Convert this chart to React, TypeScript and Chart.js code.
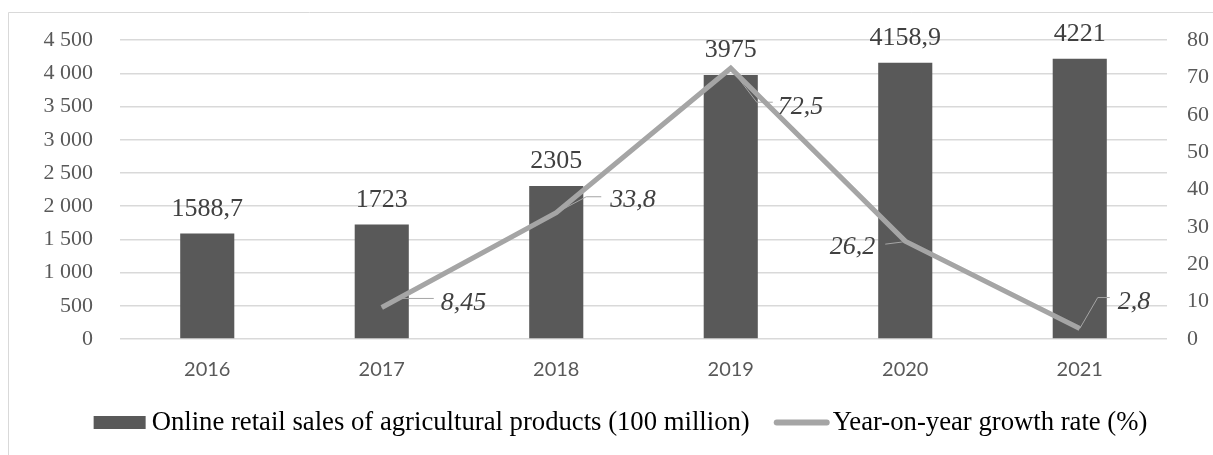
import { useEffect, useRef } from 'react';
import { Chart, registerables } from 'chart.js';

Chart.register(...registerables);

const years = ['2016', '2017', '2018', '2019', '2020', '2021'];
const salesValues = [1588.7, 1723, 2305, 3975, 4158.9, 4221];
const growthValues: (number | null)[] = [null, 8.45, 33.8, 72.5, 26.2, 2.8];
const seriesNames = [
  'Online retail sales of agricultural products (100 million)',
  'Year-on-year growth rate (%)',
];
const salesAxis = { min: 0, max: 4500, step: 500 };
const growthAxis = { min: 0, max: 80, step: 10 };

const fmtComma = (v: number) => String(v).replace('.', ',');
const fmtThousands = (v: number) =>
  v >= 1000 ? `${Math.floor(v / 1000)} ${String(v % 1000).padStart(3, '0')}` : String(v);

// label placement relative to each line point (dx, dy to text baseline; leader path)
const growthLabelPlacement = [
  null,
  { dx: 59, dy: 2.5, align: 'left', leader: [[20, -9], [52, -9]] },
  { dx: 54, dy: -6, align: 'left', leader: [[30, -16], [45, -16]] },
  { dx: 47, dy: 46, align: 'left', leader: [[26, 34], [42, 34]] },
  { dx: -30, dy: 12.5, align: 'right', leader: [[-4, 1], [-20, 3]] },
  { dx: 38, dy: -20, align: 'left', leader: [[18, -31], [30, -31]] },
];

const SERIF = '"Liberation Serif", "Times New Roman", serif';

const framePlugin = {
  id: 'frame',
  beforeDraw(chart: any) {
    const { ctx, width, height } = chart;
    ctx.save();
    ctx.fillStyle = '#ffffff';
    ctx.fillRect(0, 0, width, height);
    ctx.strokeStyle = '#d9d9d9';
    ctx.lineWidth = 1;
    ctx.beginPath();
    ctx.moveTo(8.5, height);
    ctx.lineTo(8.5, 12.5);
    ctx.lineTo(width, 12.5);
    ctx.stroke();
    ctx.restore();
  },
};

const valueLabelsPlugin = {
  id: 'valueLabels',
  afterDatasetsDraw(chart: any, _args: any, opts: any) {
    const ctx = chart.ctx;
    ctx.save();
    const barMeta = chart.getDatasetMeta(0);
    ctx.font = `26px ${SERIF}`;
    ctx.fillStyle = '#404040';
    ctx.textAlign = 'center';
    ctx.textBaseline = 'alphabetic';
    barMeta.data.forEach((el: any, i: number) => {
      const v = chart.data.datasets[0].data[i];
      ctx.fillText(fmtComma(v), el.x, el.y - 18);
    });
    const lineMeta = chart.getDatasetMeta(1);
    ctx.font = `italic 26px ${SERIF}`;
    lineMeta.data.forEach((el: any, i: number) => {
      const v = chart.data.datasets[1].data[i];
      const p = opts.placements[i];
      if (v == null || !p) return;
      ctx.strokeStyle = '#a5a5a5';
      ctx.lineWidth = 1;
      ctx.beginPath();
      ctx.moveTo(el.x, el.y);
      p.leader.forEach(([dx, dy]: number[]) => ctx.lineTo(el.x + dx, el.y + dy));
      ctx.stroke();
      ctx.textAlign = p.align;
      ctx.fillStyle = '#404040';
      ctx.fillText(fmtComma(v), el.x + p.dx, el.y + p.dy);
    });
    ctx.restore();
  },
};

const legendPlugin = {
  id: 'bottomLegend',
  afterDraw(chart: any, _args: any, opts: any) {
    const ctx = chart.ctx;
    const ds = chart.data.datasets;
    ctx.save();
    ctx.font = `26.7px ${SERIF}`;
    const w1 = ctx.measureText(ds[0].label).width;
    const w2 = ctx.measureText(ds[1].label).width;
    const total = 52 + 6 + w1 + 24 + 56 + 3 + w2;
    let x = opts.centerX - total / 2;
    const y = opts.midY;
    ctx.fillStyle = ds[0].backgroundColor;
    ctx.fillRect(x, y - 6.5, 52, 13);
    x += 58;
    ctx.fillStyle = '#000000';
    ctx.textAlign = 'left';
    ctx.textBaseline = 'alphabetic';
    ctx.fillText(ds[0].label, x, opts.baseline);
    x += w1 + 24;
    ctx.strokeStyle = ds[1].borderColor;
    ctx.lineWidth = 6;
    ctx.lineCap = 'round';
    ctx.beginPath();
    ctx.moveTo(x + 3, y);
    ctx.lineTo(x + 53, y);
    ctx.stroke();
    x += 59;
    ctx.fillText(ds[1].label, x, opts.baseline);
    ctx.restore();
  },
};

export default function App() {
  const ref = useRef<HTMLCanvasElement | null>(null);
  useEffect(() => {
    if (!ref.current) return;
    const chart = new Chart(ref.current, {
      type: 'bar',
      data: {
        labels: years,
        datasets: [
          {
            type: 'bar',
            label: seriesNames[0],
            data: salesValues,
            backgroundColor: '#595959',
            yAxisID: 'y',
            order: 2,
            categoryPercentage: 1,
            barPercentage: 0.31,
          },
          {
            type: 'line',
            label: seriesNames[1],
            data: growthValues,
            borderColor: '#a5a5a5',
            backgroundColor: '#a5a5a5',
            borderWidth: 5,
            pointRadius: 0,
            pointHoverRadius: 0,
            yAxisID: 'y1',
            order: 1,
            tension: 0,
          },
        ],
      } as any,
      options: {
        responsive: false,
        animation: false,
        events: [],
        layout: { padding: { top: 32, left: 0, right: 0, bottom: 0 } },
        plugins: {
          legend: { display: false },
          tooltip: { enabled: false },
          valueLabels: { placements: growthLabelPlacement },
          bottomLegend: { centerX: 620.5, midY: 422.5, baseline: 430 },
        } as any,
        scales: {
          x: {
            grid: { display: false, drawTicks: false },
            border: { display: false },
            ticks: { font: { family: 'Lato', size: 20 }, color: '#595959', padding: 19 },
            afterFit: (s: any) => {
              s.height = 116;
            },
          },
          y: {
            position: 'left',
            min: salesAxis.min,
            max: salesAxis.max,
            ticks: {
              stepSize: salesAxis.step,
              callback: (v: any) => fmtThousands(Number(v)),
              font: { family: SERIF, size: 22 },
              color: '#595959',
              padding: 27,
            },
            grid: { color: '#d9d9d9', lineWidth: 1.5, drawTicks: false },
            border: { display: false },
            afterFit: (s: any) => {
              s.width = 120;
            },
          },
          y1: {
            position: 'right',
            min: growthAxis.min,
            max: growthAxis.max,
            ticks: {
              stepSize: growthAxis.step,
              font: { family: SERIF, size: 22 },
              color: '#595959',
              padding: 20,
            },
            grid: { display: false, drawTicks: false },
            border: { display: false },
            afterFit: (s: any) => {
              s.width = 46;
            },
          },
        } as any,
      },
      plugins: [framePlugin, valueLabelsPlugin, legendPlugin],
    });
    return () => chart.destroy();
  }, []);
  return (
    <div style={{ position: 'fixed', left: 0, top: 0, width: 1213, height: 455 }}>
      <canvas ref={ref} width={1213} height={455} style={{ display: 'block' }} />
    </div>
  );
}
